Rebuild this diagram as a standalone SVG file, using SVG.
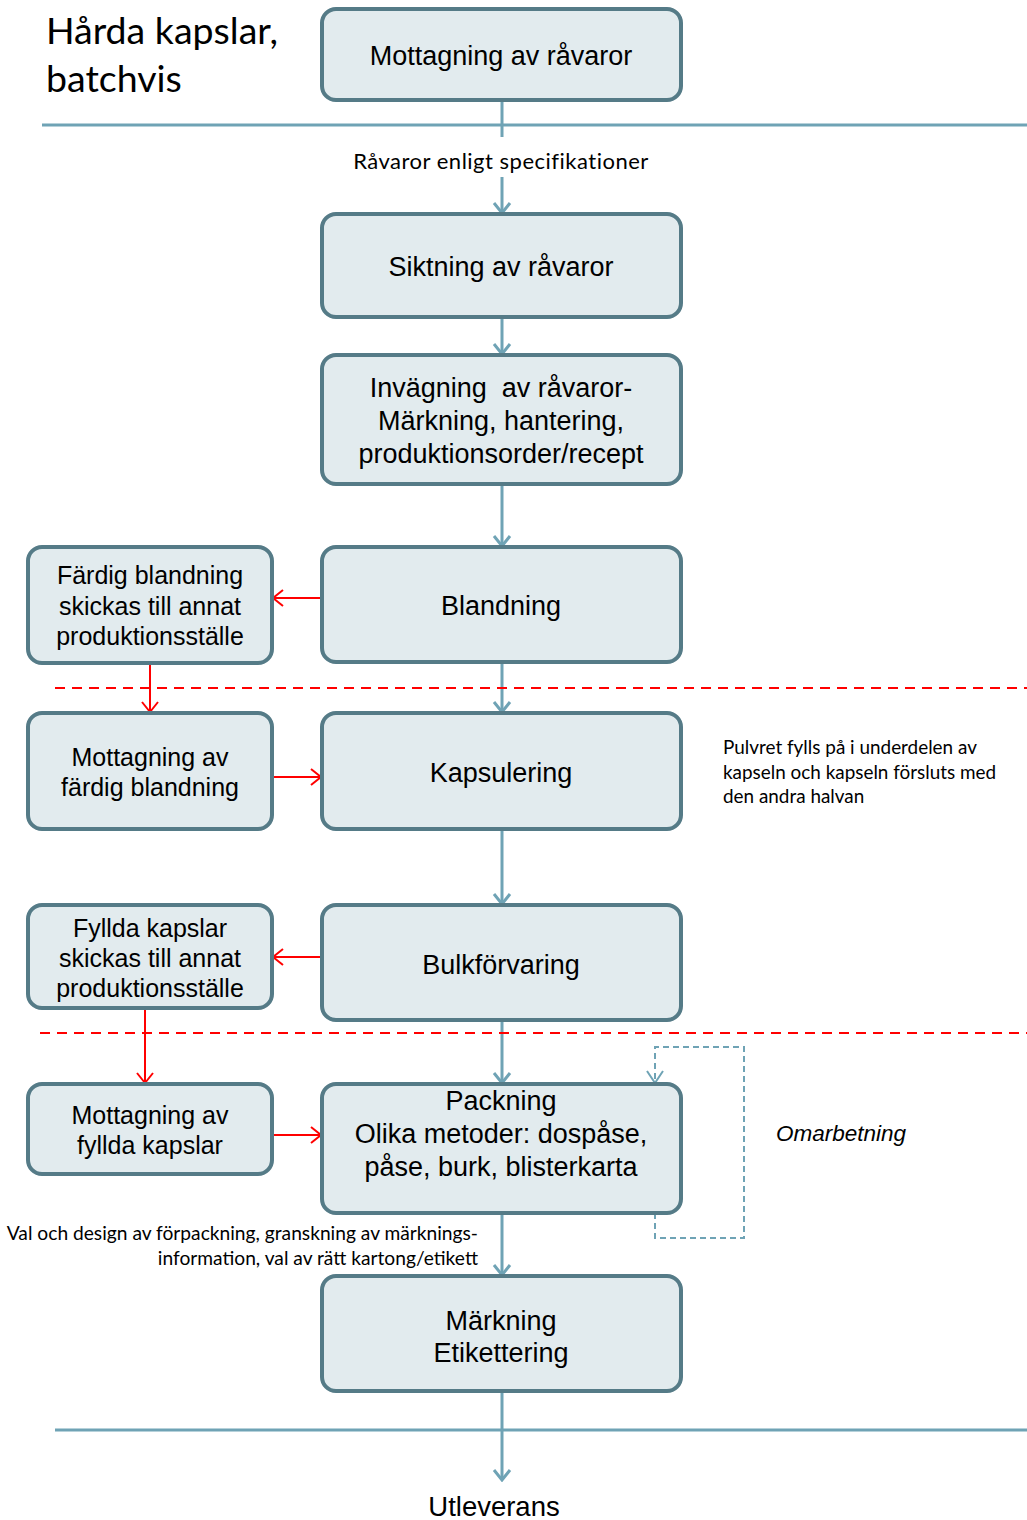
<svg xmlns="http://www.w3.org/2000/svg" width="1027" height="1520" viewBox="0 0 1027 1520">
  <style>
    .box { fill: #e2ebee; stroke: #557b87; stroke-width: 4; }
    .lbl { font-family: "Liberation Sans", Arial, sans-serif; font-size: 27px; fill: #000; text-anchor: middle; }
    .side { font-size: 25px; }
    .note { font-family: Lato, "Open Sans", sans-serif; font-size: 18.9px; fill: #000; }
    .flow { stroke: #6fa3b5; stroke-width: 3; fill: none; }
    .red { stroke: #ff0000; stroke-width: 2; fill: none; }
    .reddash { stroke: #ff0000; stroke-width: 2; stroke-dasharray: 10 7; fill: none; }
    .loop { stroke: #6fa3b5; stroke-width: 2; stroke-dasharray: 6 4; fill: none; }
  </style>
  <defs>
    <marker id="arrBlue" viewBox="0 0 20 20" refX="18" refY="10" markerWidth="20" markerHeight="20" markerUnits="userSpaceOnUse" orient="auto">
      <path d="M8 2 L18 10 L8 18" fill="none" stroke="#6fa3b5" stroke-width="3"/>
    </marker>
    <marker id="arrRed" viewBox="0 0 20 20" refX="18" refY="10" markerWidth="20" markerHeight="20" markerUnits="userSpaceOnUse" orient="auto">
      <path d="M8 2 L18 10 L8 18" fill="none" stroke="#ff0000" stroke-width="2"/>
    </marker>
    <marker id="arrLoop" viewBox="0 0 20 20" refX="18" refY="10" markerWidth="20" markerHeight="20" markerUnits="userSpaceOnUse" orient="auto">
      <path d="M6 2 L18 10 L6 18" fill="none" stroke="#6fa3b5" stroke-width="2"/>
    </marker>
  </defs>

  <!-- heading -->
  <text x="46" y="44" font-family="Lato, 'Open Sans', sans-serif" font-size="37.5" fill="#000">Hårda kapslar,</text>
  <text x="46" y="92" font-family="Lato, 'Open Sans', sans-serif" font-size="37.5" fill="#000">batchvis</text>

  <!-- connectors -->
  <g id="connectors">
    <line class="flow" x1="42" y1="125" x2="1027" y2="125"/>
    <line class="flow" x1="55" y1="1430" x2="1027" y2="1430"/>
    <line class="flow" x1="502" y1="100" x2="502" y2="137"/>
    <line class="flow" x1="502" y1="177" x2="502" y2="213" marker-end="url(#arrBlue)"/>
    <line class="flow" x1="502" y1="317" x2="502" y2="354" marker-end="url(#arrBlue)"/>
    <line class="flow" x1="502" y1="484" x2="502" y2="546" marker-end="url(#arrBlue)"/>
    <line class="flow" x1="502" y1="662" x2="502" y2="712" marker-end="url(#arrBlue)"/>
    <line class="flow" x1="502" y1="829" x2="502" y2="904" marker-end="url(#arrBlue)"/>
    <line class="flow" x1="502" y1="1020" x2="502" y2="1083" marker-end="url(#arrBlue)"/>
    <line class="flow" x1="502" y1="1213" x2="502" y2="1275" marker-end="url(#arrBlue)"/>
    <line class="flow" x1="502" y1="1391" x2="502" y2="1480" marker-end="url(#arrBlue)"/>

    <line class="reddash" x1="55" y1="688" x2="1027" y2="688"/>
    <line class="reddash" x1="40" y1="1033" x2="1027" y2="1033"/>

    <line class="red" x1="322" y1="598" x2="273" y2="598" marker-end="url(#arrRed)"/>
    <line class="red" x1="150" y1="663" x2="150" y2="712" marker-end="url(#arrRed)"/>
    <line class="red" x1="273" y1="777" x2="321" y2="777" marker-end="url(#arrRed)"/>
    <line class="red" x1="322" y1="957" x2="273" y2="957" marker-end="url(#arrRed)"/>
    <line class="red" x1="145" y1="1008" x2="145" y2="1083" marker-end="url(#arrRed)"/>
    <line class="red" x1="273" y1="1135" x2="321" y2="1135" marker-end="url(#arrRed)"/>

    <path class="loop" d="M655 1213 V1238 H744 V1047 H655 V1083" marker-end="url(#arrLoop)"/>
  </g>

  <!-- connector labels and notes -->
  <text class="note" x="501" y="169" text-anchor="middle" style="font-size:22px;letter-spacing:0.5px">Råvaror enligt specifikationer</text>
  <text class="note" x="723" y="754">Pulvret fylls på i underdelen av</text>
  <text class="note" x="723" y="779">kapseln och kapseln försluts med</text>
  <text class="note" x="723" y="803">den andra halvan</text>
  <text class="note" x="478" y="1240" text-anchor="end" style="font-size:19.2px">Val och design av förpackning, granskning av märknings-</text>
  <text class="note" x="478" y="1265" text-anchor="end" style="font-size:19.2px">information, val av rätt kartong/etikett</text>
  <text x="776" y="1141" font-family="'Liberation Sans', Arial, sans-serif" font-style="italic" font-size="22.5" fill="#000">Omarbetning</text>
  <text class="lbl" x="494" y="1516" style="font-size:27.5px">Utleverans</text>

  <!-- process steps -->
  <g id="n-mottagning">
    <rect class="box" x="322" y="9" width="359" height="91" rx="14"/>
    <text class="lbl" x="501" y="65">Mottagning av råvaror</text>
  </g>
  <g id="n-siktning">
    <rect class="box" x="322" y="214" width="359" height="103" rx="14"/>
    <text class="lbl" x="501" y="276">Siktning av råvaror</text>
  </g>
  <g id="n-invagning">
    <rect class="box" x="322" y="355" width="359" height="129" rx="14"/>
    <text class="lbl" x="501" y="397">Invägning&#160; av råvaror-</text>
    <text class="lbl" x="501" y="430">Märkning, hantering,</text>
    <text class="lbl" x="501" y="463">produktionsorder/recept</text>
  </g>
  <g id="n-blandning">
    <rect class="box" x="322" y="547" width="359" height="115" rx="14"/>
    <text class="lbl" x="501" y="615">Blandning</text>
  </g>
  <g id="n-fardig">
    <rect class="box" x="28" y="547" width="244" height="116" rx="14"/>
    <text class="lbl side" x="150" y="584">Färdig blandning</text>
    <text class="lbl side" x="150" y="615">skickas till annat</text>
    <text class="lbl side" x="150" y="645">produktionsställe</text>
  </g>
  <g id="n-kapsulering">
    <rect class="box" x="322" y="713" width="359" height="116" rx="14"/>
    <text class="lbl" x="501" y="782">Kapsulering</text>
  </g>
  <g id="n-mott-blandning">
    <rect class="box" x="28" y="713" width="244" height="116" rx="14"/>
    <text class="lbl side" x="150" y="766">Mottagning av</text>
    <text class="lbl side" x="150" y="796">färdig blandning</text>
  </g>
  <g id="n-bulk">
    <rect class="box" x="322" y="905" width="359" height="115" rx="14"/>
    <text class="lbl" x="501" y="974">Bulkförvaring</text>
  </g>
  <g id="n-fyllda">
    <rect class="box" x="28" y="905" width="244" height="103" rx="14"/>
    <text class="lbl side" x="150" y="937">Fyllda kapslar</text>
    <text class="lbl side" x="150" y="967">skickas till annat</text>
    <text class="lbl side" x="150" y="997">produktionsställe</text>
  </g>
  <g id="n-packning">
    <rect class="box" x="322" y="1084" width="359" height="129" rx="14"/>
    <text class="lbl" x="501" y="1110">Packning</text>
    <text class="lbl" x="501" y="1143">Olika metoder: dospåse,</text>
    <text class="lbl" x="501" y="1176">påse, burk, blisterkarta</text>
  </g>
  <g id="n-mott-fyllda">
    <rect class="box" x="28" y="1084" width="244" height="90" rx="14"/>
    <text class="lbl side" x="150" y="1124">Mottagning av</text>
    <text class="lbl side" x="150" y="1154">fyllda kapslar</text>
  </g>
  <g id="n-markning">
    <rect class="box" x="322" y="1276" width="359" height="115" rx="14"/>
    <text class="lbl" x="501" y="1330">Märkning</text>
    <text class="lbl" x="501" y="1362">Etikettering</text>
  </g>
</svg>
